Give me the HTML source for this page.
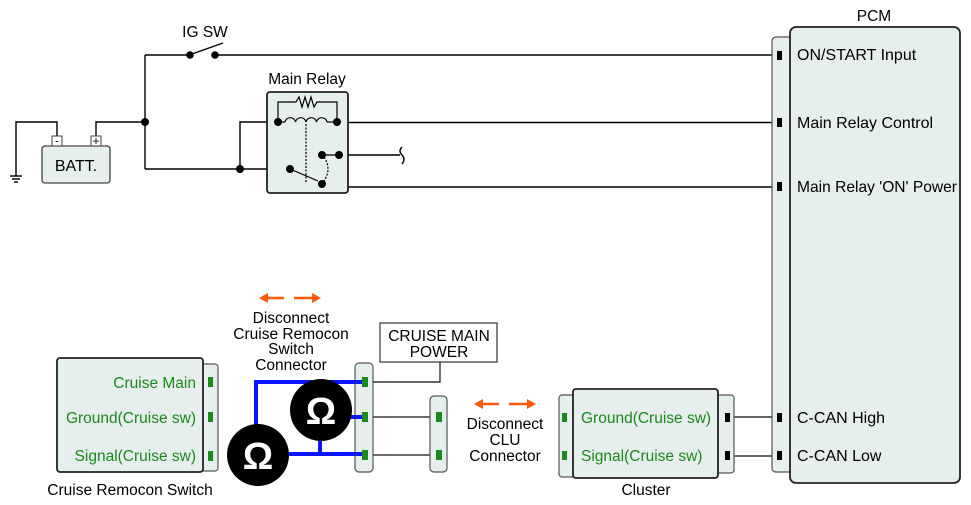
<!DOCTYPE html>
<html><head><meta charset="utf-8"><style>
html,body{margin:0;padding:0;background:#fff;}
svg{display:block;font-family:"Liberation Sans",Arial,sans-serif;}
</style></head><body>
<svg width="971" height="505" viewBox="0 0 971 505" xmlns="http://www.w3.org/2000/svg">
<g fill="none" stroke="#000" stroke-width="1.4">
<line x1="145" y1="55" x2="190" y2="55"/>
<line x1="192" y1="54" x2="223" y2="43"/>
<line x1="215" y1="55" x2="776" y2="55"/>
<line x1="145" y1="55" x2="145" y2="169"/>
<polyline points="96,141 96,122 145,122"/>
<polyline points="57,141 57,122 16,122 16,176"/>
<line x1="10" y1="176" x2="22" y2="176"/>
<line x1="12" y1="179" x2="20" y2="179"/>
<line x1="14" y1="182" x2="18" y2="182"/>
<polyline points="145,169 290,169"/>
<polyline points="240,169 240,122 278,122"/>
<line x1="337" y1="122.5" x2="776" y2="122.5"/>
<polyline points="339,155 400,155"/>
<path d="M402,147 q-4,4 0,8 q4,4 0,9"/>
<polyline points="339,155 339,187 776,187"/>
<line x1="727" y1="417" x2="780" y2="417" stroke="#333"/>
<line x1="727" y1="456" x2="780" y2="456" stroke="#333"/>
<line x1="365" y1="417" x2="438" y2="417" stroke="#555" stroke-width="1.8"/>
<line x1="365" y1="455" x2="438" y2="455" stroke="#555" stroke-width="1.8"/>
<polyline points="440,362 440,382 366,382" stroke="#333"/>
</g>
<rect x="42" y="146" width="68" height="37" rx="3" fill="#e6eeee" stroke="#444" stroke-width="1.3"/>
<rect x="52" y="136" width="10" height="10" fill="#fff" stroke="#444"/>
<rect x="91" y="136" width="10" height="10" fill="#fff" stroke="#444"/>
<text x="57" y="144.5" font-size="11" text-anchor="middle">-</text>
<text x="96" y="145" font-size="12" text-anchor="middle">+</text>
<text x="76" y="171" font-size="16" text-anchor="middle">BATT.</text>
<text x="205" y="37" font-size="15.5" text-anchor="middle">IG SW</text>
<g fill="#000"><circle cx="190" cy="55" r="3.8"/><circle cx="215" cy="55" r="3.8"/><circle cx="145" cy="122" r="4"/><circle cx="240" cy="169" r="4"/></g>
<text x="307" y="84" font-size="15.5" text-anchor="middle">Main Relay</text>
<rect x="267" y="92" width="81" height="101" rx="3" fill="#e6eeee" stroke="#222" stroke-width="1.8"/>
<g fill="none" stroke="#000" stroke-width="1.2">
<polyline points="278,122 278,102 296,102 299,97 302,107 305,97 308,107 311,97 314,107 317,102 337,102 337,122"/>
<path d="M285,122 a5.3,5 0 0 1 10.5,0 a5.3,5 0 0 1 10.5,0 a5.3,5 0 0 1 10.5,0 a5.3,5 0 0 1 10.5,0"/>
<line x1="278" y1="122" x2="285" y2="122"/><line x1="327" y1="122" x2="337" y2="122"/>
<line x1="306" y1="124" x2="306" y2="182" stroke-dasharray="2,1.5"/>
<line x1="290" y1="169" x2="318" y2="181"/>
<path d="M324,157 q8,12 0,24" stroke-dasharray="2,1.5"/>
<line x1="322" y1="155" x2="339" y2="155"/>
</g>
<g fill="#000"><circle cx="278" cy="122" r="4"/><circle cx="337" cy="122" r="4"/><circle cx="290" cy="169" r="4"/><circle cx="322" cy="184" r="4"/><circle cx="322" cy="155" r="4"/><circle cx="339" cy="155" r="4"/></g>
<text x="874" y="21" font-size="15.5" text-anchor="middle">PCM</text>
<rect x="772" y="37" width="22" height="435" rx="4" fill="#e6eeee" stroke="#555" stroke-width="1.2"/>
<rect x="790" y="27" width="170" height="456" rx="6" fill="#e6eeee" stroke="#222" stroke-width="1.8"/>
<g fill="#000"><rect x="777" y="51" width="5" height="9"/><rect x="777" y="118" width="5" height="9"/><rect x="777" y="182" width="5" height="9"/><rect x="777" y="413" width="5" height="9"/><rect x="777" y="451" width="5" height="9"/></g>
<g font-size="16"><text x="797" y="60">ON/START Input</text><text x="797" y="128">Main Relay Control</text><text x="797" y="192" textLength="160" lengthAdjust="spacingAndGlyphs">Main Relay 'ON' Power</text><text x="797" y="423">C-CAN High</text><text x="797" y="461">C-CAN Low</text></g>
<rect x="559" y="395" width="20" height="82" rx="3" fill="#e6eeee" stroke="#555" stroke-width="1.2"/>
<rect x="712" y="395" width="22" height="78" rx="3" fill="#e6eeee" stroke="#555" stroke-width="1.2"/>
<rect x="573" y="389" width="145" height="89" rx="3" fill="#e6eeee" stroke="#222" stroke-width="1.8"/>
<g fill="#1a8a1a"><rect x="562" y="413" width="5" height="9"/><rect x="562" y="451" width="5" height="9"/></g>
<g fill="#000"><rect x="725" y="413" width="5" height="9"/><rect x="725" y="451" width="5" height="9"/></g>
<g font-size="15.5" fill="#1a8a1a"><text x="581" y="423">Ground(Cruise sw)</text><text x="581" y="461">Signal(Cruise sw)</text></g>
<text x="646" y="495" font-size="15.5" text-anchor="middle">Cluster</text>
<rect x="200" y="364" width="18" height="107" rx="3" fill="#e6eeee" stroke="#555" stroke-width="1.2"/>
<rect x="57" y="358" width="146" height="114" rx="3" fill="#e6eeee" stroke="#222" stroke-width="1.8"/>
<g fill="#1a8a1a"><rect x="208" y="377" width="5" height="10"/><rect x="208" y="412" width="5" height="10"/><rect x="208" y="451" width="5" height="10"/></g>
<g font-size="15.5" fill="#1a8a1a" text-anchor="end"><text x="196" y="388">Cruise Main</text><text x="196" y="423">Ground(Cruise sw)</text><text x="196" y="461">Signal(Cruise sw)</text></g>
<text x="130" y="495" font-size="15.5" text-anchor="middle">Cruise Remocon Switch</text>
<rect x="355" y="363" width="18" height="109" rx="4" fill="#e6eeee" stroke="#555" stroke-width="1.2"/>
<rect x="430" y="396" width="17" height="76" rx="4" fill="#e6eeee" stroke="#555" stroke-width="1.2"/>
<g fill="#1a8a1a"><rect x="436" y="412" width="6" height="10"/><rect x="436" y="450" width="6" height="10"/></g>
<g stroke="#0a14ff" stroke-width="4" fill="none">
<polyline points="256,430 256,382 366,382"/>
<line x1="350" y1="417" x2="366" y2="417"/>
<line x1="285" y1="454" x2="366" y2="454"/>
<line x1="320" y1="438" x2="320" y2="454"/>
</g>
<g fill="#1a8a1a"><rect x="362" y="377" width="6" height="10"/><rect x="362" y="412" width="6" height="10"/><rect x="362" y="450" width="6" height="10"/></g>
<circle cx="321" cy="410" r="31" fill="#000"/>
<circle cx="258" cy="455" r="31" fill="#000"/>
<g fill="#fff" font-size="38" font-weight="bold" text-anchor="middle"><text x="321" y="424">Ω</text><text x="258" y="469">Ω</text></g>
<rect x="380" y="323" width="117" height="39" fill="#fff" stroke="#333" stroke-width="1.2"/>
<g font-size="15.5" text-anchor="middle"><text x="439" y="341">CRUISE MAIN</text><text x="439" y="357">POWER</text></g>
<g stroke="#ff5a0a" stroke-width="2.5" fill="#ff5a0a">
<line x1="266" y1="298" x2="284" y2="298"/><polygon points="259,298 268,293 268,303" stroke="none"/>
<line x1="294" y1="298" x2="313" y2="298"/><polygon points="321,298 312,293 312,303" stroke="none"/>
<line x1="481" y1="404" x2="499" y2="404"/><polygon points="474,404 483,399 483,409" stroke="none"/>
<line x1="509" y1="404" x2="528" y2="404"/><polygon points="536,404 527,399 527,409" stroke="none"/>
</g>
<g font-size="15.5" text-anchor="middle">
<text x="291" y="323">Disconnect</text><text x="291" y="339">Cruise Remocon</text><text x="291" y="354">Switch</text><text x="291" y="370">Connector</text>
<text x="505" y="429">Disconnect</text><text x="505" y="445">CLU</text><text x="505" y="461">Connector</text>
</g>
</svg>
</body></html>
